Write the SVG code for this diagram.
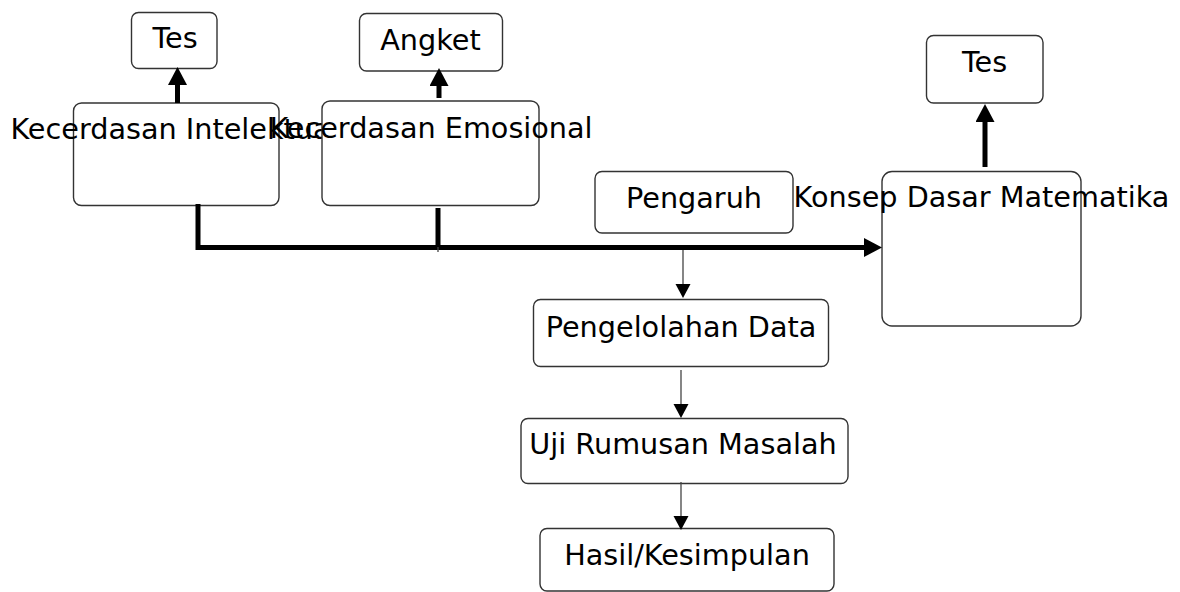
<svg xmlns="http://www.w3.org/2000/svg" width="1180" height="592" viewBox="0 0 1180 592">
<style>
.box{fill:#fff;stroke:#333;stroke-width:1.4}
.lbl{font-family:"DejaVu Sans",sans-serif;font-size:28.7px;fill:#000;text-anchor:middle}
.thick{fill:none;stroke:#000;stroke-width:5}
.thin{fill:none;stroke:#444;stroke-width:1.3}
</style>
<defs>
<marker id="hb" markerUnits="userSpaceOnUse" markerWidth="20" markerHeight="20" refX="0" refY="9.5" orient="auto">
<path d="M0,0 L18,9.5 L0,19 z" fill="#000"/>
</marker>
<marker id="hs" markerUnits="userSpaceOnUse" markerWidth="16" markerHeight="16" refX="0" refY="7.5" orient="auto">
<path d="M0,0 L14,7.5 L0,15 z" fill="#000"/>
</marker>
</defs>
<g id="n-tes1"><rect class="box" x="131.5" y="12.5" width="85.5" height="56" rx="7"/><text class="lbl" x="175" y="48">Tes</text></g>
<g id="n-angket"><rect class="box" x="359.5" y="13.5" width="143" height="57.5" rx="7"/><text class="lbl" x="430.5" y="50">Angket</text></g>
<g id="n-tes2"><rect class="box" x="926.5" y="35.5" width="116.5" height="67.5" rx="7"/><text class="lbl" x="984.5" y="72">Tes</text></g>
<g id="n-intelektual"><rect class="box" x="73.5" y="103" width="205.5" height="102.5" rx="8"/><text class="lbl" x="174.5" y="138.5">Kecerdasan Intelektual</text></g>
<g id="n-emosional"><rect class="box" x="322" y="101" width="217" height="104.5" rx="8"/><text class="lbl" x="431" y="138">Kecerdasan Emosional</text></g>
<g id="n-pengaruh"><rect class="box" x="595" y="171.5" width="198" height="61.5" rx="7"/><text class="lbl" x="694" y="207.5">Pengaruh</text></g>
<g id="n-konsep"><rect class="box" x="882" y="171.5" width="199" height="154.5" rx="10"/><text class="lbl" x="981.5" y="207">Konsep Dasar Matematika</text></g>
<g id="n-pengelolahan"><rect class="box" x="533.5" y="299.5" width="295" height="67" rx="7"/><text class="lbl" x="681" y="337">Pengelolahan Data</text></g>
<g id="n-uji"><rect class="box" x="521" y="418.5" width="327" height="65" rx="7"/><text class="lbl" x="683" y="453.5">Uji Rumusan Masalah</text></g>
<g id="n-hasil"><rect class="box" x="540" y="528.5" width="294" height="62.5" rx="7"/><text class="lbl" x="687" y="565">Hasil/Kesimpulan</text></g>
<g id="connectors">
<path class="thick" d="M177.5,103 L177.5,85" marker-end="url(#hb)"/>
<path class="thick" d="M439,98 L439,86" marker-end="url(#hb)"/>
<path class="thick" d="M985,167 L985,122" marker-end="url(#hb)"/>
<path class="thick" d="M198,204 L198,247.5 L864,247.5" marker-end="url(#hb)"/>
<path class="thick" d="M438,208 L438,247.5"/>
<path class="thin" d="M438,247 L438,252"/>
<path class="thin" d="M683,250 L683,284" marker-end="url(#hs)"/>
<path class="thin" d="M681,370 L681,404" marker-end="url(#hs)"/>
<path class="thin" d="M681,482 L681,516" marker-end="url(#hs)"/>
</g>
</svg>
